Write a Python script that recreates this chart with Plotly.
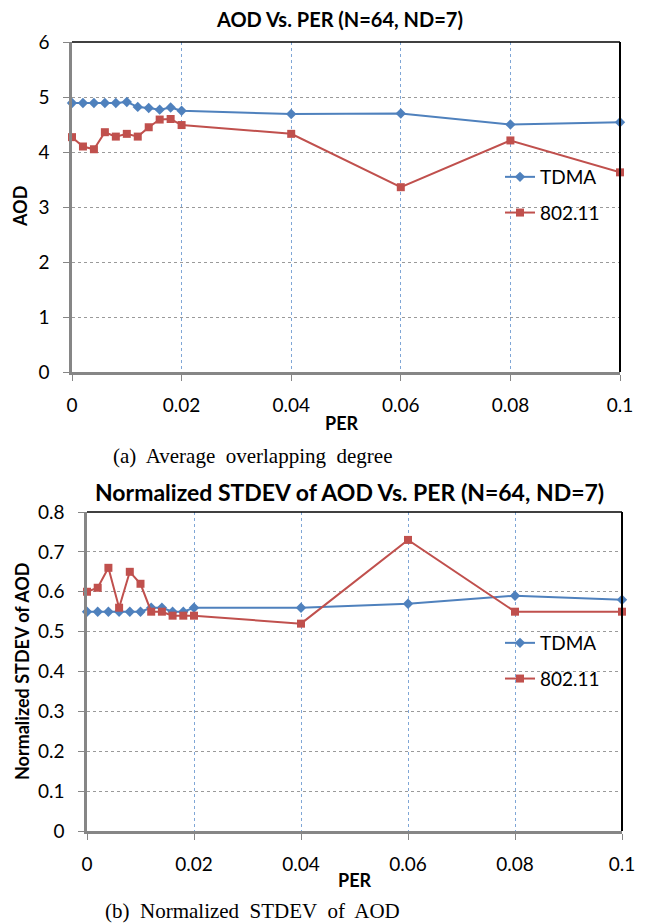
import plotly.graph_objects as go

# the page body adds an 8 px margin, so the figure is 8 px smaller
OFF = 8
W, H = 647 - OFF, 923 - OFF

# ---- data ----
per = [0, 0.002, 0.004, 0.006, 0.008, 0.01, 0.012, 0.014, 0.016, 0.018, 0.02,
       0.04, 0.06, 0.08, 0.1]

aod_tdma = [4.89, 4.89, 4.89, 4.89, 4.89, 4.91, 4.82, 4.80, 4.77, 4.81, 4.75,
            4.69, 4.70, 4.50, 4.54]
aod_80211 = [4.27, 4.10, 4.05, 4.36, 4.28, 4.33, 4.28, 4.45, 4.59, 4.60, 4.49,
             4.33, 3.36, 4.21, 3.63]

std_tdma = [0.55, 0.55, 0.55, 0.55, 0.55, 0.55, 0.56, 0.56, 0.55, 0.55, 0.56,
            0.56, 0.57, 0.59, 0.58]
std_80211 = [0.60, 0.61, 0.66, 0.56, 0.65, 0.62, 0.55, 0.55, 0.54, 0.54, 0.54,
             0.52, 0.73, 0.55, 0.55]

x_ticks = [0, 0.02, 0.04, 0.06, 0.08, 0.1]

BLUE = "#4F81BD"
RED = "#C0504D"
FONT = "Lato"
SERIF = "Liberation Serif"


def px_x(p):
    return (p - OFF) / W


def px_y(p):
    return 1 - (p - OFF) / H


# plot areas in page pixels: (left, right, top, bottom)
A = (72, 620, 42, 372)
B = (87, 622, 512, 831)

fig = go.Figure()

for xs, ys, name, color, sym, xa, ya, leg in [
    (per, aod_tdma, "TDMA", BLUE, "diamond", "x", "y", "legend"),
    (per, aod_80211, "802.11", RED, "square", "x", "y", "legend"),
    (per, std_tdma, "TDMA", BLUE, "diamond", "x2", "y2", "legend2"),
    (per, std_80211, "802.11", RED, "square", "x2", "y2", "legend2"),
]:
    fig.add_scatter(
        x=xs, y=ys, name=name, mode="lines+markers",
        line=dict(color=color, width=2),
        marker=dict(symbol=sym, size=8, color=color),
        xaxis=xa, yaxis=ya, legend=leg, legendgroup=name + leg,
        cliponaxis=False,
    )

xcommon = dict(
    range=[0, 0.1], tickvals=x_ticks, ticks="outside", ticklen=6,
    tickcolor="#868686", showline=True, linecolor="#868686", linewidth=2.5,
    showgrid=True, gridcolor="#7FA6D6", griddash="dot", gridwidth=1,
    zeroline=False, tickfont=dict(family=FONT, size=19, color="black"),
    ticklabelstandoff=8, automargin=False,
)
ycommon = dict(
    ticks="outside", ticklen=6, tickcolor="#868686",
    showline=True, linecolor="#868686", linewidth=2.5,
    showgrid=True, gridcolor="#9A9A9A", griddash="dot", gridwidth=1,
    zeroline=False, tickfont=dict(family=FONT, size=19, color="black"),
    ticklabelstandoff=10, automargin=False,
)

legend_style = dict(
    xanchor="left", yanchor="top",
    font=dict(family=FONT, size=19, color="black"),
    bgcolor="rgba(0,0,0,0)", tracegroupgap=8, itemwidth=30,
)

fig.update_layout(
    width=W, height=H,
    margin=dict(l=0, r=0, t=0, b=0),
    paper_bgcolor="white", plot_bgcolor="white",
    xaxis=dict(**xcommon, domain=[px_x(A[0]), px_x(A[1])], anchor="y"),
    yaxis=dict(**ycommon, range=[0, 6], dtick=1,
               domain=[px_y(A[3]), px_y(A[2])], anchor="x"),
    xaxis2=dict(**xcommon, domain=[px_x(B[0]), px_x(B[1])], anchor="y2"),
    yaxis2=dict(**ycommon, range=[0, 0.8], dtick=0.1,
                domain=[px_y(B[3]), px_y(B[2])], anchor="x2"),
    legend=dict(x=px_x(500), y=px_y(158), **legend_style),
    legend2=dict(x=px_x(500), y=px_y(624), **legend_style),
)

# black top/right frame edges
for (l, r, t, b) in (A, B):
    fig.add_shape(type="line", xref="paper", yref="paper",
                  x0=px_x(l), x1=px_x(r), y0=px_y(t), y1=px_y(t),
                  line=dict(color="black", width=1.5))
    fig.add_shape(type="line", xref="paper", yref="paper",
                  x0=px_x(r), x1=px_x(r), y0=px_y(t), y1=px_y(b),
                  line=dict(color="black", width=2))


def note(text, x, y, size, family=FONT, bold=True, angle=0):
    fig.add_annotation(
        text=f"<b>{text}</b>" if bold else text,
        xref="paper", yref="paper", x=px_x(x), y=px_y(y),
        xanchor="center", yanchor="middle", showarrow=False, textangle=angle,
        font=dict(family=family, size=size, color="black"),
    )


note("AOD Vs. PER (N=64, ND=7)", 339, 19, 20)
note("Normalized STDEV of AOD Vs. PER (N=64, ND=7)", 349, 492, 23)
note("AOD", 20, 207, 18, angle=-90)
note("Normalized STDEV of AOD", 22, 672, 18, angle=-90)
note("PER", 341, 423, 18)
note("PER", 355, 880, 18)
note("(a)  Average  overlapping  degree", 252, 456, 21, family=SERIF, bold=False)
note("(b)  Normalized  STDEV  of  AOD", 252, 911, 21, family=SERIF, bold=False)

fig.write_html("out.html")
